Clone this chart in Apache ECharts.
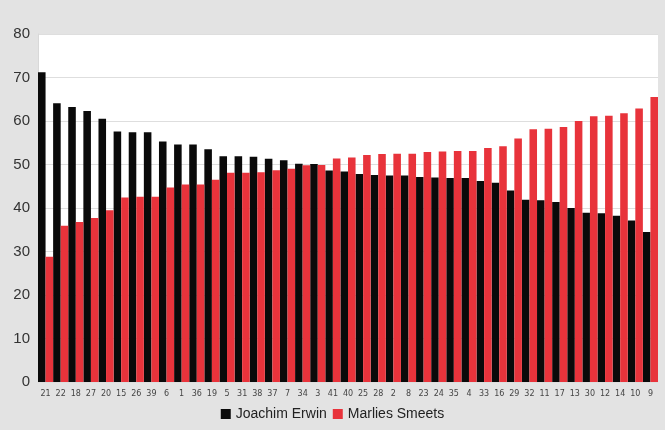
<!DOCTYPE html>
<html><head><meta charset="utf-8">
<script src="https://cdn.jsdelivr.net/npm/echarts@6/dist/echarts.min.js"></script>
<style>html,body{margin:0;padding:0;background:#e3e3e3}#c{width:665px;height:430px}</style>
</head><body><div id="c"></div>
<script>
const categories = ['21','22','18','27','20','15','26','39','6','1','36','19','5','31','38','37','7','34','3','41','40','25','28','2','8','23','24','35','4','33','16','29','32','11','17','13','30','12','14','10','9'];
const joachimErwin = [71.2,64.1,63.2,62.3,60.5,57.6,57.4,57.4,55.3,54.6,54.6,53.5,51.9,51.9,51.8,51.3,51.0,50.2,50.1,48.6,48.4,47.8,47.6,47.5,47.5,47.1,47.0,46.9,46.9,46.2,45.8,44.0,41.9,41.8,41.4,40.0,38.9,38.8,38.2,37.1,34.5];
const marliesSmeets = [28.8,35.9,36.8,37.7,39.5,42.4,42.6,42.6,44.7,45.4,45.4,46.5,48.1,48.1,48.2,48.7,49.0,49.8,49.9,51.4,51.6,52.2,52.4,52.5,52.5,52.9,53.0,53.1,53.1,53.8,54.2,56.0,58.1,58.2,58.6,60.0,61.1,61.2,61.8,62.9,65.5];
const yTicks = {min:0, max:80, interval:10};

const chart = echarts.init(document.getElementById('c'));
chart.setOption({
  backgroundColor:'#e3e3e3',
  animation:false,
  grid:{left:38,right:7,top:34,bottom:48,show:true,backgroundColor:'#ffffff',borderWidth:0},
  legend:{bottom:4,left:'center',icon:'rect',itemWidth:10,itemHeight:10,itemGap:6,
    textStyle:{fontFamily:'Liberation Sans, Arial',fontSize:14,color:'#222'},
    data:['Joachim Erwin','Marlies Smeets']},
  xAxis:{type:'category',data:categories,
    axisLine:{show:false},axisTick:{show:false},
    axisLabel:{interval:0,fontSize:8,color:'#444',fontFamily:'DejaVu Sans',margin:8}},
  yAxis:{type:'value',min:yTicks.min,max:yTicks.max,interval:yTicks.interval,
    axisLine:{show:true,lineStyle:{color:'#d8d8d8'}},axisTick:{show:false},
    splitLine:{lineStyle:{color:'#dedede',width:1}},
    axisLabel:{fontSize:15,color:'#333',fontFamily:'Liberation Sans, Arial',margin:8}},
  series:[
    {name:'Joachim Erwin',type:'bar',data:joachimErwin,itemStyle:{color:'#0a0a0a'},barGap:'0%',barCategoryGap:'0%'},
    {name:'Marlies Smeets',type:'bar',data:marliesSmeets,itemStyle:{color:'#e8333b'},barGap:'0%',barCategoryGap:'0%'}
  ]
});
</script></body></html>
